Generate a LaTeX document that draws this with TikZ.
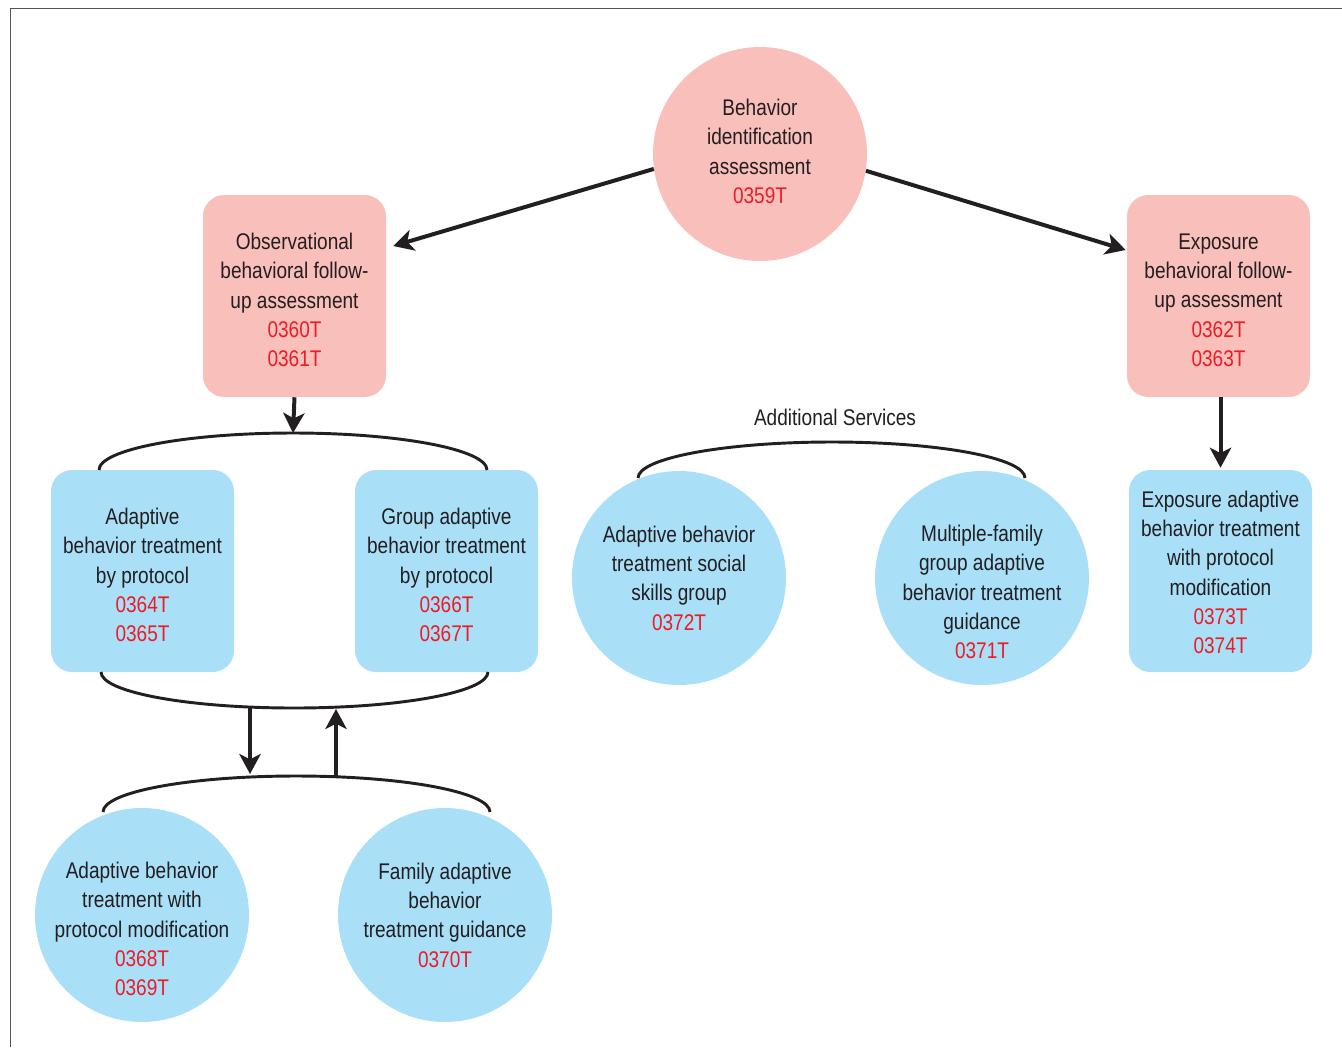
\documentclass[tikz,border=0pt]{standalone}
\usepackage{fontspec}
\setmainfont{Liberation Sans}[FakeStretch=0.84]
\usetikzlibrary{arrows.meta,calc}
\definecolor{pinkf}{HTML}{F9BFBB}
\definecolor{bluef}{HTML}{A9DFF7}
\definecolor{codered}{HTML}{ED1C24}
\definecolor{ink}{HTML}{231F20}
\definecolor{framec}{HTML}{555555}
\newcommand\code[1]{\textcolor{codered}{#1}}
\begin{document}
\begin{tikzpicture}[x=0.75pt,y=-0.75pt,
  txt/.style={font=\fontsize{17}{22}\selectfont, text=ink, align=center},
  pbox/.style={rectangle, rounded corners=16pt, fill=pinkf, minimum width=137.25pt, minimum height=151.5pt, inner sep=0pt},
  bbox/.style={pbox, fill=bluef},
  pcirc/.style={circle, fill=pinkf, minimum size=160.5pt, inner sep=0pt},
  bcirc/.style={pcirc, fill=bluef},
  arr/.style={line width=3pt, draw=ink, -{Stealth[length=15pt,width=16pt,inset=4pt]}},
  brace/.style={line width=2.2pt, draw=ink},
]
\useasboundingbox (0,0) rectangle (1342,1047);
\draw[framec, line width=1.2pt] (10.5,1047) -- (10.5,8.5) -- (1342,8.5);

% nodes
\node[pcirc, label={[txt,yshift=2pt]center:{Behavior\\identification\\assessment\\\code{0359T}}}] (top) at (760,154) {};
\node[pbox, label={[txt,yshift=-3pt]center:{Observational\\behavioral follow-\\up assessment\\\code{0360T}\\\code{0361T}}}] (obs) at (294.5,296) {};
\node[pbox, label={[txt,yshift=-3pt]center:{Exposure\\behavioral follow-\\up assessment\\\code{0362T}\\\code{0363T}}}] (exp) at (1218.5,296) {};
\node[bbox, label={[txt,yshift=-3pt]center:{Adaptive\\behavior treatment\\by protocol\\\code{0364T}\\\code{0365T}}}] (ab) at (142.5,571) {};
\node[bbox, label={[txt,yshift=-3pt]center:{Group adaptive\\behavior treatment\\by protocol\\\code{0366T}\\\code{0367T}}}] (gb) at (446.5,571) {};
\node[bbox, label={[txt,yshift=-1pt]center:{Exposure adaptive\\behavior treatment\\with protocol\\modification\\\code{0373T}\\\code{0374T}}}] (ea) at (1220.5,571) {};
\node[bcirc, label={[txt]center:{Adaptive behavior\\treatment social\\skills group\\\code{0372T}}}] (soc) at (679,578) {};
\node[bcirc, label={[txt,yshift=-10.5pt]center:{Multiple-family\\group adaptive\\behavior treatment\\guidance\\\code{0371T}}}] (mf) at (982,578) {};
\node[bcirc, label={[txt,yshift=-10.5pt]center:{Adaptive behavior\\treatment with\\protocol modification\\\code{0368T}\\\code{0369T}}}] (apm) at (142,915) {};
\node[bcirc, label={[txt]center:{Family adaptive\\behavior\\treatment guidance\\\code{0370T}}}] (fam) at (445,915) {};
\node[txt] (add) at (835,417) {Additional Services};

% braces
\draw[brace] (99,470) .. controls (99,449.6) and (186,433) .. (293,433) .. controls (400,433) and (487,449.6) .. (487,470);
\coordinate (brA) at (293,433);
\draw[brace] (101,672) .. controls (101,692) and (187,708) .. (294,708) .. controls (401,708) and (488,692) .. (488,672);
\draw[brace] (103,812) .. controls (103,792) and (189,776) .. (296,776) .. controls (403,776) and (490,792) .. (490,812);
\draw[brace] (638,478) .. controls (638,458) and (725,442) .. (832,442) .. controls (939,442) and (1025,458) .. (1025,478);
\coordinate (bdTop) at (250,706);
\coordinate (bdBot) at (250,774);
\coordinate (buBot) at (336,777);
\coordinate (buTop) at (336,709);

% connectors
\draw[arr] (top.188.5) -- ($(obs.east)+(7,-50)$);
\draw[arr] (top.-9.5) -- ($(exp.west)+(-1,-46)$);
\draw[arr] (obs.south) -- (brA);
\draw[arr] (exp.south -| ea.north) -- ($(ea.north)+(0,-2)$);
\draw[arr] (bdTop) -- (bdBot);
\draw[arr] (buBot) -- (buTop);
\end{tikzpicture}
\end{document}
